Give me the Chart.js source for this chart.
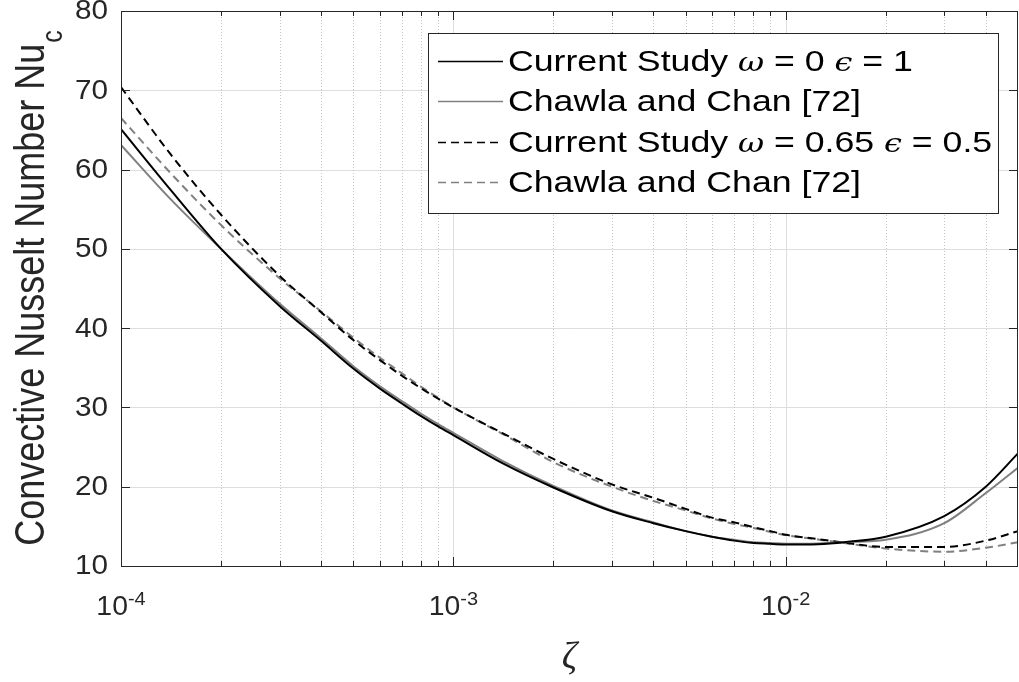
<!DOCTYPE html>
<html>
<head>
<meta charset="utf-8">
<script src="https://cdn.jsdelivr.net/npm/chart.js@4.4.0/dist/chart.umd.min.js"></script>
<style>
  html, body { margin: 0; padding: 0; background: #fff; }
</style>
</head>
<body>
<canvas id="graficoNusselt" width="1019" height="682"></canvas>
<script>
const zeta = [1e-4, 1.4e-4, 2e-4, 3e-4, 4e-4, 5e-4, 6e-4, 7e-4, 8e-4, 9e-4,
  1e-3, 1.4e-3, 2e-3, 3e-3, 4e-3, 5e-3, 6e-3, 7e-3, 8e-3, 9e-3,
  1e-2, 1.25e-2, 1.5e-2, 2e-2, 3e-2, 4e-2, 5e-2];

const nuStudyA = [65.1, 57.6, 50.0, 42.8, 38.4, 34.9, 32.4, 30.5, 28.9, 27.6,
  26.5, 23.0, 19.9, 16.9, 15.4, 14.4, 13.7, 13.2, 12.9, 12.8,
  12.7, 12.75, 13.0, 13.7, 16.3, 20.0, 24.2];
const nuChawlaA = [63.1, 56.4, 50.0, 43.1, 38.7, 35.2, 32.7, 30.8, 29.2, 27.9,
  26.8, 23.3, 20.1, 17.0, 15.5, 14.4, 13.7, 13.3, 13.0, 12.9,
  12.8, 12.85, 13.0, 13.3, 15.4, 19.2, 22.4];
const nuStudyB = [70.4, 62.1, 54.3, 46.6, 42.0, 38.5, 36.0, 34.0, 32.4, 31.1,
  30.0, 26.8, 23.5, 20.3, 18.6, 17.2, 16.1, 15.5, 14.9, 14.4,
  13.95, 13.4, 12.95, 12.4, 12.4, 13.2, 14.4];
const nuChawlaB = [66.5, 59.7, 53.0, 46.3, 42.1, 38.8, 36.3, 34.3, 32.6, 31.2,
  30.0, 26.7, 23.1, 20.0, 18.2, 17.0, 16.0, 15.3, 14.8, 14.3,
  13.9, 13.35, 12.9, 12.2, 11.8, 12.3, 13.0];

const yTicks = [10, 20, 30, 40, 50, 60, 70, 80];
const xDecades = [-4, -3, -2];
const xMinor = [2e-4, 3e-4, 4e-4, 5e-4, 6e-4, 7e-4, 8e-4, 9e-4,
  2e-3, 3e-3, 4e-3, 5e-3, 6e-3, 7e-3, 8e-3, 9e-3,
  2e-2, 3e-2, 4e-2];

const labels = [
  "Current Study ω = 0 ϵ = 1",
  "Chawla and Chan [72]",
  "Current Study ω = 0.65 ϵ = 0.5",
  "Chawla and Chan [72]"
];

const pts = vals => zeta.map((z, i) => ({ x: z, y: vals[i] }));

const SANS = '"Liberation Sans", Arial, sans-serif';
const TXT = '#262626';

function stretchedText(ctx, text, x, y, sx) {
  ctx.save();
  ctx.translate(x, y);
  ctx.scale(sx, 1);
  ctx.fillText(text, 0, 0);
  ctx.restore();
}

// ejes estilo matlab: rejilla, caja, marcas, etiquetas y leyenda
const matlabAxes = {
  id: 'matlabAxes',
  beforeDatasetsDraw(chart) {
    const { ctx, chartArea: a, scales: { x, y } } = chart;
    ctx.save();
    ctx.lineWidth = 1;
    ctx.strokeStyle = '#dedede';
    ctx.beginPath();
    yTicks.slice(1, -1).forEach(v => {
      const py = Math.round(y.getPixelForValue(v)) + 0.5;
      ctx.moveTo(a.left, py); ctx.lineTo(a.right, py);
    });
    xDecades.slice(1).forEach(d => {
      const px = Math.round(x.getPixelForValue(Math.pow(10, d))) + 0.5;
      ctx.moveTo(px, a.top); ctx.lineTo(px, a.bottom);
    });
    ctx.stroke();
    ctx.setLineDash([1, 2]);
    ctx.strokeStyle = '#c4c4c4';
    ctx.beginPath();
    xMinor.forEach(v => {
      const px = Math.round(x.getPixelForValue(v)) + 0.5;
      ctx.moveTo(px, a.top); ctx.lineTo(px, a.bottom);
    });
    ctx.stroke();
    ctx.restore();
  },
  afterDatasetsDraw(chart) {
    const { ctx, chartArea: a, scales: { x, y } } = chart;
    ctx.save();
    // caja
    ctx.strokeStyle = TXT;
    ctx.lineWidth = 1;
    ctx.strokeRect(a.left + 0.5, a.top + 0.5, a.right - a.left - 1, a.bottom - a.top);
    ctx.beginPath();
    const xt = (v, len) => {
      const px = Math.round(x.getPixelForValue(v)) + 0.5;
      ctx.moveTo(px, a.bottom); ctx.lineTo(px, a.bottom - len);
      ctx.moveTo(px, a.top); ctx.lineTo(px, a.top + len);
    };
    xDecades.forEach(d => xt(Math.pow(10, d), 9));
    xMinor.forEach(v => xt(v, 5));
    yTicks.forEach(v => {
      const py = Math.round(y.getPixelForValue(v)) + 0.5;
      ctx.moveTo(a.left, py); ctx.lineTo(a.left + 9, py);
      ctx.moveTo(a.right, py); ctx.lineTo(a.right - 9, py);
    });
    ctx.stroke();

    // etiquetas eje y
    ctx.fillStyle = TXT;
    ctx.font = '27px ' + SANS;
    ctx.textBaseline = 'middle';
    yTicks.forEach(v => {
      const s = String(v);
      const w = ctx.measureText(s).width * 1.1;
      stretchedText(ctx, s, a.left - 13 - w, y.getPixelForValue(v) + 1, 1.1);
    });

    // etiquetas eje x: 10^n
    ctx.textBaseline = 'alphabetic';
    xDecades.forEach(d => {
      const px = x.getPixelForValue(Math.pow(10, d));
      ctx.font = '27px ' + SANS;
      const w1 = ctx.measureText('10').width * 1.05;
      ctx.font = '19px ' + SANS;
      const w2 = ctx.measureText(String(d)).width * 1.05;
      const x0 = px - (w1 + w2) / 2;
      ctx.font = '27px ' + SANS;
      stretchedText(ctx, '10', x0, 615, 1.05);
      ctx.font = '19px ' + SANS;
      stretchedText(ctx, String(d), x0 + w1, 605, 1.05);
    });

    // titulo eje x
    ctx.font = 'italic 38px "Liberation Serif", serif';
    ctx.textAlign = 'center';
    ctx.fillText('ζ', (a.left + a.right) / 2, 668);
    ctx.textAlign = 'left';

    // titulo eje y
    ctx.font = '36px ' + SANS;
    const main = 'Convective Nusselt Number Nu';
    const wm = ctx.measureText(main).width;
    ctx.font = '25px ' + SANS;
    const ws = ctx.measureText('c').width;
    ctx.save();
    ctx.translate(44, (a.top + a.bottom) / 2);
    ctx.scale(1.2, 1);
    ctx.rotate(-Math.PI / 2);
    ctx.font = '36px ' + SANS;
    ctx.fillText(main, -(wm + ws) / 2, 0);
    ctx.font = '25px ' + SANS;
    ctx.fillText('c', -(wm + ws) / 2 + wm + 1, 15);
    ctx.restore();

    // leyenda
    const lx = 428, ly = 33, lw = 570, lh = 180;
    ctx.fillStyle = '#fff';
    ctx.fillRect(lx, ly, lw, lh);
    ctx.strokeStyle = TXT;
    ctx.strokeRect(lx + 0.5, ly + 0.5, lw, lh);
    const rows = [61, 101, 142, 182];
    chart.data.datasets.forEach((ds, i) => {
      const ry = rows[i];
      ctx.save();
      ctx.strokeStyle = ds.borderColor;
      ctx.lineWidth = 1.5;
      ctx.setLineDash(ds.borderDash || []);
      ctx.beginPath();
      ctx.moveTo(438, ry + 0.5); ctx.lineTo(503, ry + 0.5);
      ctx.stroke();
      ctx.restore();
      ctx.fillStyle = '#000';
      ctx.textBaseline = 'alphabetic';
      let cx = 508;
      const sx = 1.23;
      ds.label.split(/([ωϵ])/).forEach(part => {
        if (!part) return;
        const greek = /[ωϵ]/.test(part);
        ctx.font = greek ? 'italic 26px "DejaVu Serif", serif' : '29px ' + SANS;
        stretchedText(ctx, part, cx, ry + 10, sx);
        cx += ctx.measureText(part).width * sx;
      });
    });
    ctx.restore();
  }
};

const ctxNusselt = document.getElementById("graficoNusselt").getContext("2d");
new Chart(ctxNusselt, {
  type: "line",
  data: {
    datasets: [
      {
        label: labels[0],
        data: pts(nuStudyA),
        borderColor: "#000000",
        borderWidth: 2,
        pointRadius: 0,
        cubicInterpolationMode: "monotone"
      },
      {
        label: labels[1],
        data: pts(nuChawlaA),
        borderColor: "#808080",
        borderWidth: 2,
        pointRadius: 0,
        cubicInterpolationMode: "monotone"
      },
      {
        label: labels[2],
        data: pts(nuStudyB),
        borderColor: "#000000",
        borderWidth: 2,
        borderDash: [8, 5],
        pointRadius: 0,
        cubicInterpolationMode: "monotone"
      },
      {
        label: labels[3],
        data: pts(nuChawlaB),
        borderColor: "#808080",
        borderWidth: 2,
        borderDash: [8, 5],
        pointRadius: 0,
        cubicInterpolationMode: "monotone"
      }
    ]
  },
  options: {
    responsive: false,
    animation: false,
    layout: { padding: { top: 11, right: 1, left: 0, bottom: 0 } },
    plugins: {
      legend: { display: false },
      tooltip: { enabled: false }
    },
    scales: {
      x: {
        type: "logarithmic",
        min: 1e-4,
        max: 5e-2,
        grid: { display: false },
        border: { display: false },
        ticks: { display: false },
        afterFit: s => { s.height = 116; }
      },
      y: {
        min: 10,
        max: 80,
        grid: { display: false },
        border: { display: false },
        ticks: { display: false, stepSize: 10 },
        afterFit: s => { s.width = 121; }
      }
    }
  },
  plugins: [matlabAxes]
});
</script>
</body>
</html>
